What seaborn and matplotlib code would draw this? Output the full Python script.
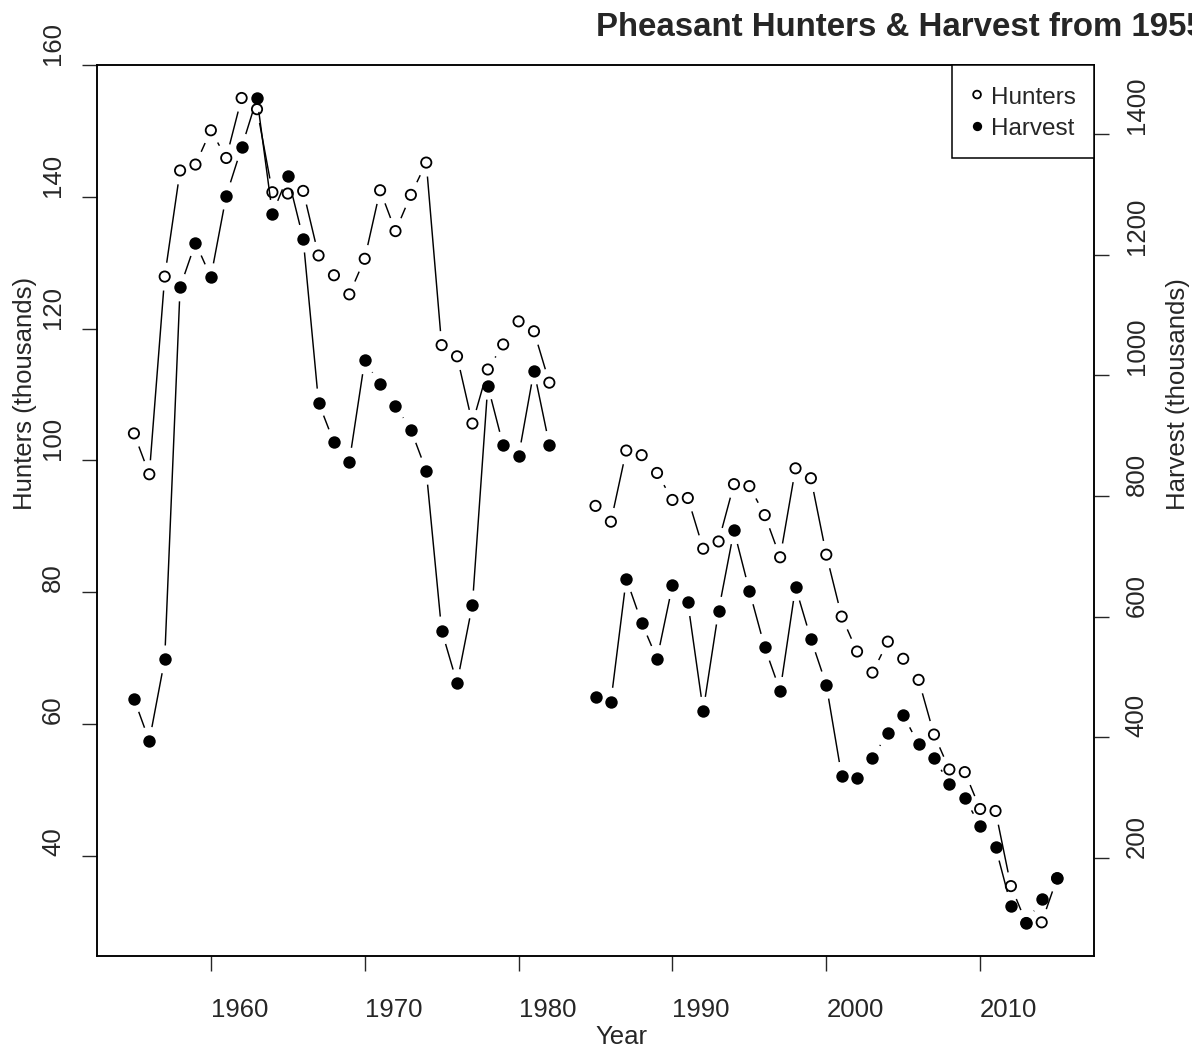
import numpy as np
import seaborn as sns
import matplotlib.pyplot as plt

# pheasant survey, thousands (1983-84 not surveyed)
years = list(range(1955, 2016))
hunters = [104.1, 97.9, 127.9, 144.0, 144.9, 150.1, 145.9, 155.0, 153.3, 140.7,
           140.5, 140.9, 131.1, 128.1, 125.2, 130.6, 141.0, 134.8, 140.3, 145.2,
           117.5, 115.8, 105.6, 113.8, 117.6, 121.1, 119.6, 111.8, np.nan, np.nan,
           93.1, 90.7, 101.5, 100.8, 98.1, 94.0, 94.3, 86.6, 87.7, 96.4,
           96.1, 91.7, 85.3, 98.8, 97.3, 85.7, 76.3, 71.0, 67.8, 72.5,
           69.9, 66.7, 58.4, 53.1, 52.7, 47.1, 46.8, 35.4, 29.8, 29.9, 36.6]
harvest = [464, 394, 529, 1146, 1220, 1163, 1298, 1378, 1460, 1268,
           1330, 1227, 955, 889, 857, 1025, 985, 950, 910, 842,
           577, 490, 620, 983, 884, 866, 1008, 885, np.nan, np.nan,
           466, 459, 663, 590, 530, 652, 624, 444, 610, 743,
           643, 549, 477, 649, 563, 487, 336, 333, 366, 407,
           437, 388, 366, 323, 299, 253, 218, 121, 92, 132, 166]

x_ticks = [1960, 1970, 1980, 1990, 2000, 2010]
hunt_ticks = [40, 60, 80, 100, 120, 140, 160]
harv_ticks = [200, 400, 600, 800, 1000, 1200, 1400]

sns.set_style("ticks")
plt.rcParams['font.family'] = ['Liberation Sans', 'DejaVu Sans']

W, H = 1192, 1048
fig = plt.figure(figsize=(W / 100, H / 100), dpi=100)
L, R, T, B = 97, 1094, 65, 956
ax = fig.add_axes([L / W, 1 - B / H, (R - L) / W, (B - T) / H])
ax2 = ax.twinx()


def rlim(v):
    # R style 4% padding
    lo, hi = np.nanmin(v), np.nanmax(v)
    d = (hi - lo) * 0.04
    return lo - d, hi + d


ax.set_xlim(rlim(years))
ax.set_ylim(rlim(hunters))
ax2.set_ylim(rlim(harvest))


def gapped(a, xs, ys, gap=14):
    # type="b" lines: segments stop short of the points
    xs = np.asarray(xs, float)
    ys = np.asarray(ys, float)
    pts = a.transData.transform(np.column_stack([xs, ys]))
    inv = a.transData.inverted()
    for i in range(len(xs) - 1):
        if np.isnan(ys[i]) or np.isnan(ys[i + 1]):
            continue
        d = pts[i + 1] - pts[i]
        n = np.hypot(*d)
        if n <= 2 * gap:
            continue
        u = d / n
        seg = inv.transform([pts[i] + u * gap, pts[i + 1] - u * gap])
        a.plot(seg[:, 0], seg[:, 1], color='black', lw=1.05,
               solid_capstyle='butt')


gapped(ax, years, hunters)
sns.scatterplot(x=years, y=hunters, ax=ax, marker='o', s=55,
                facecolors='none', edgecolor='black', linewidth=1.3,
                label='Hunters', legend=False)
gapped(ax2, years, harvest)
sns.scatterplot(x=years, y=harvest, ax=ax2, marker='o', s=80,
                color='black', linewidth=0, label='Harvest', legend=False)

# text in the original starts at its anchor point (R quirk)
fs = 18.5
ax.set_xticks(x_ticks)
ax.set_yticks(hunt_ticks)
ax2.set_yticks(harv_ticks)
ax.set_xticklabels([str(v) for v in x_ticks], ha='left')
ax.set_yticklabels([str(v) for v in hunt_ticks], rotation=90, va='bottom')
ax2.set_yticklabels([str(v) for v in harv_ticks], rotation=90, va='bottom')
ax.tick_params(axis='x', length=11, width=1, labelsize=fs, pad=19)
ax.tick_params(axis='y', length=11, width=1, labelsize=fs, pad=12)
ax2.tick_params(axis='y', length=11, width=1, labelsize=fs, pad=11)
ax.set_ylim(rlim(hunters))
ax2.set_ylim(rlim(harvest))

for a in (ax, ax2):
    for sp in a.spines.values():
        sp.set_visible(True)
        sp.set_linewidth(1.1)
        sp.set_color('black')

ax.set_xlabel('Year', fontsize=fs, va='center', ha='left')
ax.xaxis.set_label_coords(0.5, (B - 1037) / (B - T))
ax.set_ylabel('Hunters (thousands)', fontsize=fs)
ax.yaxis.set_label_coords((25 - L) / (R - L), 0.5)
ax2.set_ylabel('Harvest (thousands)', fontsize=fs, rotation=90)
ax2.yaxis.set_label_coords((1178 - L) / (R - L), 0.5)
for lab in (ax.yaxis.label, ax2.yaxis.label):
    lab.set_rotation_mode('anchor')
    lab.set_horizontalalignment('left')
    lab.set_verticalalignment('center')

h1, l1 = ax.get_legend_handles_labels()
h2, l2 = ax2.get_legend_handles_labels()
leg = ax2.legend(h1 + h2, l1 + l2, loc='upper right', bbox_to_anchor=(1, 1),
                 borderaxespad=0, fontsize=17.5, frameon=True, fancybox=False,
                 edgecolor='black', framealpha=1, markerscale=0.75,
                 borderpad=0.75, labelspacing=0.22, handlelength=0.56,
                 handleheight=1.2, handletextpad=0.29)
leg.get_frame().set_linewidth(1.1)

fig.text(0.5 * (L + R) / W, 1 - 27 / H,
         'Pheasant Hunters & Harvest from 1955 - 2015',
         fontsize=23.8, fontweight='bold', ha='left', va='center')

fig.savefig('out.png', dpi=100)
